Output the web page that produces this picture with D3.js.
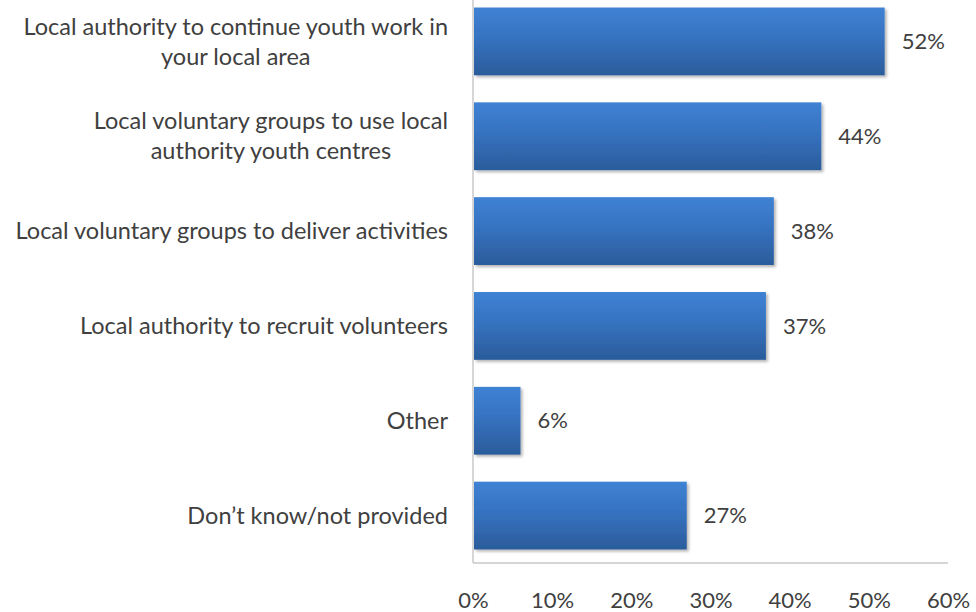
<!DOCTYPE html>
<html>
<head>
<meta charset="utf-8">
<script src="https://cdn.jsdelivr.net/npm/d3@7"></script>
<style>
  html, body { margin: 0; padding: 0; background: #fff; }
  svg { display: block; }
  text { font-family: Lato, "Open Sans", sans-serif; fill: #404040; }
</style>
</head>
<body>
<div id="chart"></div>
<script>
// Survey responses: who respondents support to deliver youth services
const categories = [
  ["Local authority to continue youth work in", "your local area"],
  ["Local voluntary groups to use local", "authority youth centres"],
  ["Local voluntary groups to deliver activities"],
  ["Local authority to recruit volunteers"],
  ["Other"],
  ["Don\u2019t know/not provided"]
];
const values = [52, 44, 38, 37, 6, 27];
const xTicks = [0, 10, 20, 30, 40, 50, 60];

const width = 976, height = 612;
const margin = { left: 473, right: 28, top: -6, bottom: 49 };
const labelSize = 23.5, numSize = 22;

const svg = d3.select("#chart").append("svg")
  .attr("width", width).attr("height", height);

const defs = svg.append("defs");
const grad = defs.append("linearGradient")
  .attr("id", "barGrad").attr("x1", 0).attr("y1", 0).attr("x2", 0).attr("y2", 1);
grad.append("stop").attr("offset", "0%").attr("stop-color", "#3f82d4");
grad.append("stop").attr("offset", "45%").attr("stop-color", "#3672c0");
grad.append("stop").attr("offset", "100%").attr("stop-color", "#2b5c9b");

const shadow = defs.append("filter").attr("id", "shadow")
  .attr("x", "-5%").attr("y", "-10%").attr("width", "115%").attr("height", "130%");
shadow.append("feGaussianBlur").attr("in", "SourceAlpha").attr("stdDeviation", 1.5).attr("result", "b");
shadow.append("feOffset").attr("in", "b").attr("dx", 1.5).attr("dy", 2).attr("result", "o");
shadow.append("feComponentTransfer").attr("in", "o").attr("result", "s")
  .append("feFuncA").attr("type", "linear").attr("slope", 0.3);
const merge = shadow.append("feMerge");
merge.append("feMergeNode").attr("in", "s");
merge.append("feMergeNode").attr("in", "SourceGraphic");

const x = d3.scaleLinear().domain([0, 60]).range([margin.left, width - margin.right]);
const y = d3.scaleBand()
  .domain(d3.range(categories.length))
  .range([margin.top, height - margin.bottom])
  .paddingInner(0.285).paddingOuter(0.1425);

// Axis lines
const axisColor = "#d6d6d6";
svg.append("line")
  .attr("x1", x(0)).attr("x2", x(0))
  .attr("y1", 0).attr("y2", height - margin.bottom)
  .attr("stroke", axisColor).attr("stroke-width", 2);
svg.append("line")
  .attr("x1", x(0)).attr("x2", x(60))
  .attr("y1", height - margin.bottom).attr("y2", height - margin.bottom)
  .attr("stroke", axisColor).attr("stroke-width", 2);

// Bottom tick labels via d3 axis
const xAxis = d3.axisBottom(x).tickValues(xTicks).tickFormat(d => d + "%").tickSize(0).tickPadding(29);
const gx = svg.append("g").attr("transform", `translate(0,${height - margin.bottom})`).call(xAxis);
gx.select(".domain").remove();
gx.selectAll("text").attr("font-size", numSize).style("font-family", "Lato, 'Open Sans', sans-serif").attr("fill", "#404040");

// Bars
svg.append("g").selectAll("rect").data(values).join("rect")
  .attr("x", x(0) + 1)
  .attr("y", (d, i) => y(i))
  .attr("width", d => x(d) - x(0) - 1)
  .attr("height", y.bandwidth())
  .attr("fill", "url(#barGrad)")
  .attr("filter", "url(#shadow)");

// Value labels
svg.append("g").selectAll("text").data(values).join("text")
  .attr("x", d => x(d) + 17)
  .attr("y", (d, i) => y(i) + y.bandwidth() / 2)
  .attr("dy", "0.35em")
  .attr("font-size", numSize)
  .text(d => d + "%");

// Category labels (multi-line labels centered as a block, block right-aligned)
const labelRight = x(0) - 25;
categories.forEach((lines, i) => {
  const cy = y(i) + y.bandwidth() / 2;
  const lh = 30;
  const g = svg.append("g");
  const first = g.append("text")
    .attr("x", labelRight)
    .attr("y", cy - (lines.length - 1) * lh / 2)
    .attr("dy", "0.35em")
    .attr("text-anchor", "end")
    .attr("font-size", labelSize)
    .text(lines[0]);
  if (lines.length > 1) {
    const w = first.node().getComputedTextLength();
    const cx = labelRight - w / 2;
    lines.slice(1).forEach((ln, k) => {
      g.append("text")
        .attr("x", cx)
        .attr("y", cy - (lines.length - 1) * lh / 2 + (k + 1) * lh)
        .attr("dy", "0.35em")
        .attr("text-anchor", "middle")
        .attr("font-size", labelSize)
        .text(ln);
    });
  }
});
</script>
</body>
</html>
